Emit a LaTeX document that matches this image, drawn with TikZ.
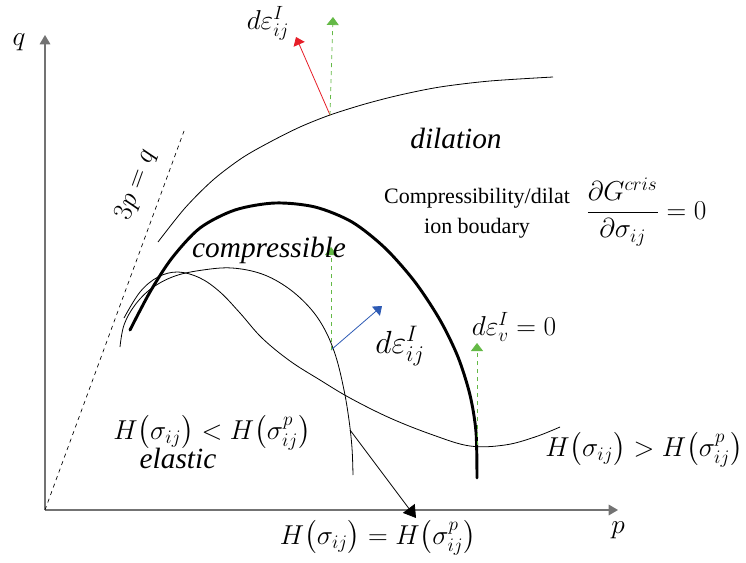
\RequirePackage{fix-cm}
\documentclass[tikz,border=0pt]{standalone}
\usepackage{fontspec}
\setmainfont{Liberation Serif}
\usepackage{amsmath}
\usetikzlibrary{arrows.meta}
\definecolor{incgreen}{RGB}{100,185,70}
\definecolor{incred}{RGB}{230,30,40}
\definecolor{incblue}{RGB}{45,90,180}

\begin{document}
\begin{tikzpicture}[x=0.75pt,y=-0.75pt,%
	>={Triangle[length=7pt,width=8pt]},%
	axis/.style={draw=black!55,line width=0.9pt,->},%
	thincurve/.style={line width=0.6pt},%
	thickcurve/.style={line width=2.2pt,line cap=round},%
	incr/.style={->,line width=0.6pt,>={Triangle[length=6pt,width=9pt]}},%
	mathlbl/.style={inner sep=0pt,font=\fontsize{20.5}{24}\selectfont},%
	region/.style={inner sep=0pt,font=\fontsize{22}{26}\selectfont\itshape},%
	note/.style={inner sep=0pt,align=center,font=\fontsize{16.5}{22.5}\selectfont}]
	\useasboundingbox (0,0) rectangle (746,563);
	% axes
	\coordinate (O) at (45,510);
	\coordinate (qend) at (45,35);
	\coordinate (pend) at (618,510);
	\draw[axis] (O) -- (qend);
	\draw[axis] (O) -- (pend);
	\node[mathlbl] (q) at (19,42) {$q$};
	\node[mathlbl] (p) at (618,530) {$p$};
	% critical state line
	\coordinate (csl) at (184,131);
	\draw[dashed,line width=0.5pt] (O) -- (csl);
	\node[mathlbl,rotate=70] (cslabel) at (136,185) {$3p=q$};
	% curves
	\draw[thincurve] plot[smooth] coordinates {(158,242) (185,208) (213,180) (242,158) (270,142) (300,127) (330,115) (365,104) (400,95) (440,87) (490,81) (553,77)};
	\draw[thickcurve] plot[smooth] coordinates {(130,330) (150,292) (172,258) (200,228) (235,210) (275,203) (315,207) (352,222) (385,248) (415,282) (440,320) (458,357) (470,395) (476,432) (477,478)};
	\draw[thincurve] plot[smooth,tension=0.6] coordinates {(120,347) (124,325) (135,305) (152,288) (175,276) (203,270) (232,268) (262,274) (288,288) (310,308) (325,330) (336,357) (344,390) (349,420) (352,448) (353,475)};
	\draw[thincurve] plot[smooth,tension=0.6] coordinates {(124,318) (140,292) (158,277) (178,272) (200,278) (220,292) (240,313) (262,338) (290,361) (320,380) (350,398) (390,418) (433,435) (470,446) (505,445) (535,437) (560,427)};
	% points on the curves
	\coordinate (A) at (330,115);
	\coordinate (B) at (331,350);
	\coordinate (C) at (477,445);
	\coordinate (D) at (350,430);
	\coordinate (Atip) at (296,37);
	\coordinate (Aup) at (333,17);
	\coordinate (Btip) at (382,306);
	\coordinate (Bup) at (331,247);
	\coordinate (Cup) at (477,343);
	\coordinate (Dtip) at (416,518);
	% increments
	\draw[incr,draw=incred] (A) -- (Atip);
	\draw[incr,draw=incgreen,dashed] (A) -- (Aup);
	\draw[incr,draw=incblue] (B) -- (Btip);
	\draw[incr,draw=incgreen,dashed] (B) -- (Bup);
	\draw[incr,draw=incgreen,dashed] (C) -- (Cup);
	\draw[->,line width=0.6pt,>={Triangle[length=9pt,width=11pt]}] (D) -- (Dtip);
	% labels
	\node[mathlbl] (dA) at (268,23) {$d\varepsilon_{ij}^{I}$};
	\node[mathlbl,font=\fontsize{24}{26}\selectfont] (dB) at (400,346) {$d\varepsilon_{ij}^{I}$};
	\node[mathlbl] (dC) at (514,327) {$d\varepsilon_{v}^{I}=0$};
	\node[region] (dil) at (456,138) {dilation};
	\node[region] (comp) at (269,250) {compressible};
	\node[region] (ela) at (178,458) {elastic};
	\node[note] (bound) at (477,213) {Compressibility/dilat\\ion boudary};
	\node[mathlbl,anchor=west] (grad) at (586,212) {$\dfrac{\partial G^{cris}}{\partial\sigma_{ij}}=0$};
	\node[mathlbl] (Hlt) at (212,433) {$H\bigl(\sigma_{ij}\bigr)<H\bigl(\sigma_{ij}^{p}\bigr)$};
	\node[mathlbl] (Hgt) at (644,450) {$H\bigl(\sigma_{ij}\bigr)>H\bigl(\sigma_{ij}^{p}\bigr)$};
	\node[mathlbl] (Heq) at (378,538) {$H\bigl(\sigma_{ij}\bigr)=H\bigl(\sigma_{ij}^{p}\bigr)$};
\end{tikzpicture}
\end{document}
